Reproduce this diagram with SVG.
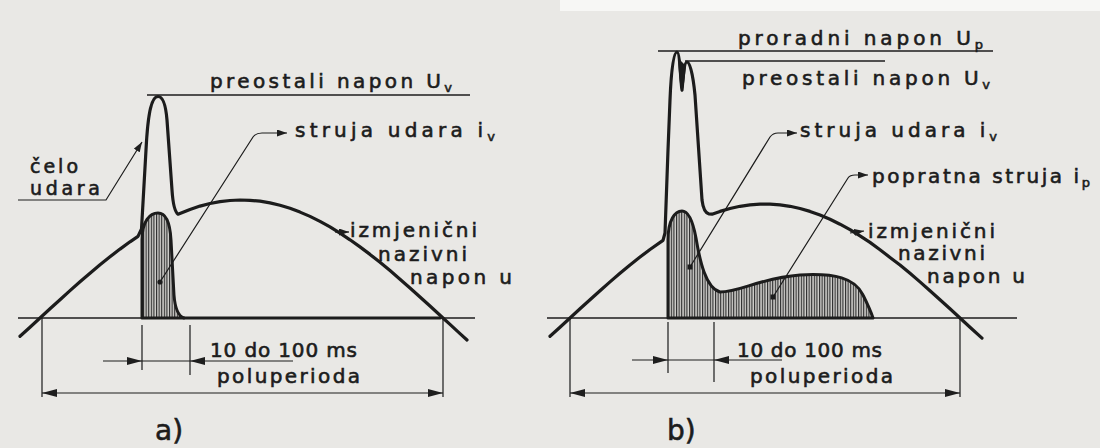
<svg xmlns="http://www.w3.org/2000/svg" width="1100" height="448" viewBox="0 0 1100 448">
<defs>
<pattern id="hatch" width="2.6" height="10" patternUnits="userSpaceOnUse"><rect width="2.6" height="10" fill="#cfcecb"/><rect x="0" width="1.1" height="10" fill="#2a2a2a"/></pattern>
<marker id="lead" markerUnits="userSpaceOnUse" markerWidth="10" markerHeight="8" refX="10" refY="3.5" orient="auto"><path d="M0,0 L10,3.5 L0,7 Z" fill="#1e1e1e"/></marker>
<marker id="dim" markerUnits="userSpaceOnUse" markerWidth="16" markerHeight="9" refX="15" refY="4" orient="auto-start-reverse"><path d="M0,0 L15,4 L0,8 Z" fill="#1e1e1e"/></marker>
<style>
.t{font-family:"DejaVu Sans","Liberation Sans",sans-serif;font-size:20px;fill:#1c1c1c;stroke:#1c1c1c;stroke-width:0.6px}
.sm{font-size:19px}
.sub{font-size:13px}
.lbl{font-family:"DejaVu Sans","Liberation Sans",sans-serif;font-size:28px;fill:#1c1c1c;stroke:#1c1c1c;stroke-width:0.6px}
.curve{fill:none;stroke:#1c1c1c;stroke-width:3.2;stroke-linejoin:round;stroke-linecap:round}
.base{fill:none;stroke:#1c1c1c;stroke-width:1.6}
.thin{fill:none;stroke:#1c1c1c;stroke-width:1.2}
.cur{fill:url(#hatch);stroke:#1c1c1c;stroke-width:3;stroke-linejoin:round}
.dot{fill:#1c1c1c}
</style>
</defs>
<rect width="1100" height="448" fill="#e9e8e5"/>
<rect x="560" y="0" width="540" height="11" fill="#f7f7f5"/>

<g id="panel-a">
  <g id="a-baseline"><path class="base" d="M18,318 L475,318"/></g>
  <g id="a-ref-lines"><path class="base" d="M147,95 L470,95"/></g>
  <g id="a-current"><path class="cur" d="M142,318 L142,240 C142,221 150,213 158,213 C166,213 170,222 171,240 L174,295 C175,308 178,316 184,318 Z"/><path class="curve" d="M184,318 L440,318"/></g>
  <g id="a-voltage"><path class="curve" d="M20,336.3 L30,327.2 L40,318 L50,308.8 L60,299.7 L70,290.6 L80,281.8 L90,273.2 L100,264.8 L110,256.8 L120,249.1 L130,241.8 L138,236.4 L141.5,229 L146,150 C148,110 152,96.5 158,96.5 C164,96.5 166,108 167,120 L172,190 C173,205 175,212 178,214.2 L190,209.4 L200,206.1 L210,203.5 L220,201.6 L230,200.5 L240,200 L250,200.3 L260,201.2 L270,202.9 L280,205.3 L290,208.3 L300,212.1 L310,216.4 L320,221.4 L330,226.9 L340,233.2 L350,239.8 L360,246.9 L370,254.4 L380,262.3 L390,270.6 L400,279.2 L410,288 L420,297 L430,306 L443,318 L450,324.4 L460,333.6 L467,340"/></g>
  <g id="a-label-uv"><text class="t" x="210" y="88" textLength="242" lengthAdjust="spacing">preostali napon U<tspan class="sub" dy="4">v</tspan></text></g>
  <g id="a-label-iv"><text class="t" x="295" y="137" textLength="200" lengthAdjust="spacing">struja udara i<tspan class="sub" dy="4">v</tspan></text></g>
  <g id="a-label-celo"><text class="t sm" x="30" y="173" textLength="48" lengthAdjust="spacing">čelo</text><text class="t sm" x="30" y="195" textLength="70" lengthAdjust="spacing">udara</text></g>
  <g id="a-label-u"><text class="t" x="350" y="237" textLength="127" lengthAdjust="spacing">izmjenični</text><text class="t" x="378" y="261" textLength="89" lengthAdjust="spacing">nazivni</text><text class="t" x="410" y="284" textLength="102" lengthAdjust="spacing">napon u</text></g>
  <g id="a-label-ms"><text class="t" x="210" y="357" textLength="147" lengthAdjust="spacing">10 do 100 ms</text></g>
  <g id="a-label-pp"><text class="t" x="217" y="383" textLength="143" lengthAdjust="spacing">poluperioda</text></g>
  <g id="a-caption"><text class="lbl" x="155" y="440">a)</text></g>
</g>

<g id="panel-b">
  <g id="b-baseline"><path class="base" d="M547,318 L1017,318"/></g>
  <g id="b-ref-lines"><path class="base" d="M658,51 L993,51"/><path class="base" d="M685,61 L885,61"/></g>
  <g id="b-current"><path class="cur" d="M668,318 L668,240 C668,220 675,211 682,211 C689,211 693,222 696,238 C700,262 706,288 720,292 C740,292 760,278 800,275 C835,273 855,278 863,295 C868,305 871,312 873,318 Z"/></g>
  <g id="b-voltage"><path class="curve" d="M550,336.3 L560,327.2 L570,318 L580,308.8 L590,299.7 L600,290.7 L610,281.9 L620,273.3 L630,265 L640,257.1 L650,249.5 L663,240.4 L665,233 L668,150 L670,100 C671,75 673,52 677,52 C680,52 681,88 682,90 C683,80 684,62 687,62 C690,62 693,75 695,95 L702,200 C703,208 705,213 709,214 L712,214.2 L720,211.4 L730,208.5 L740,206.3 L750,204.8 L760,204.1 L770,204.1 L780,204.8 L790,206.3 L800,208.5 L810,211.4 L820,215 L830,219.3 L840,224.2 L850,229.7 L860,235.8 L870,242.4 L880,249.7 L890,257.4 L900,265 L910,273.3 L920,281.9 L930,290.7 L940,299.7 L950,308.8 L960,318 L970,327.2 L982,338.1"/><path class="dot" d="M678,58 C679,75 680,88 682,92 C684,88 685,75 686,66 Z"/></g>
  <g id="b-label-up"><text class="t" x="738" y="45" textLength="245" lengthAdjust="spacing">proradni napon U<tspan class="sub" dy="4">p</tspan></text></g>
  <g id="b-label-uv"><text class="t" x="742" y="85" textLength="248" lengthAdjust="spacing">preostali napon U<tspan class="sub" dy="4">v</tspan></text></g>
  <g id="b-label-iv"><text class="t" x="800" y="137" textLength="197" lengthAdjust="spacing">struja udara i<tspan class="sub" dy="4">v</tspan></text></g>
  <g id="b-label-ip"><text class="t" x="872" y="183" textLength="218" lengthAdjust="spacing">popratna struja i<tspan class="sub" dy="4">p</tspan></text></g>
  <g id="b-label-u"><text class="t" x="868" y="238" textLength="127" lengthAdjust="spacing">izmjenični</text><text class="t" x="898" y="260" textLength="87" lengthAdjust="spacing">nazivni</text><text class="t" x="927" y="283" textLength="98" lengthAdjust="spacing">napon u</text></g>
  <g id="b-label-ms"><text class="t" x="737" y="357" textLength="145" lengthAdjust="spacing">10 do 100 ms</text></g>
  <g id="b-label-pp"><text class="t" x="750" y="383" textLength="143" lengthAdjust="spacing">poluperioda</text></g>
  <g id="b-caption"><text class="lbl" x="667" y="440">b)</text></g>
</g>

<g id="connectors">
  <path class="thin" d="M18,200 L106,200 L142,142" marker-end="url(#lead)"/>
  <path class="thin" d="M160,282 L253,137 Q256,133 262,133 L287,133" marker-end="url(#lead)"/>
  <circle class="dot" cx="160" cy="282" r="2.6"/>
  <path class="thin" d="M335,232 L349,232" marker-end="url(#lead)"/>
  <path class="thin" d="M42,318 L42,397 M443,318 L443,397 M142,325 L142,370 M190,325 L190,375"/>
  <path class="thin" d="M42,393 L443,393" marker-start="url(#dim)" marker-end="url(#dim)"/>
  <path class="thin" d="M103,361 L142,361" marker-end="url(#dim)"/>
  <path class="thin" d="M142,361 L190,361"/>
  <path class="thin" d="M293,361 L190,361" marker-end="url(#dim)"/>

  <path class="thin" d="M690,267 L770,137 Q773,133 778,133 L797,133" marker-end="url(#lead)"/>
  <rect class="dot" x="687.5" y="264.5" width="5" height="5"/>
  <path class="thin" d="M773,297 L848,178 Q850,175 855,175 L868,175" marker-end="url(#lead)"/>
  <rect class="dot" x="770.5" y="294.5" width="5" height="5"/>
  <path class="thin" d="M850,233 L864,231" marker-end="url(#lead)"/>
  <path class="thin" d="M570,318 L570,397 M960,318 L960,397 M668,322 L668,373 M714,322 L714,382"/>
  <path class="thin" d="M570,393 L960,393" marker-start="url(#dim)" marker-end="url(#dim)"/>
  <path class="thin" d="M632,360 L668,360" marker-end="url(#dim)"/>
  <path class="thin" d="M668,360 L714,360"/>
  <path class="thin" d="M782,360 L714,360" marker-end="url(#dim)"/>
</g>
</svg>
